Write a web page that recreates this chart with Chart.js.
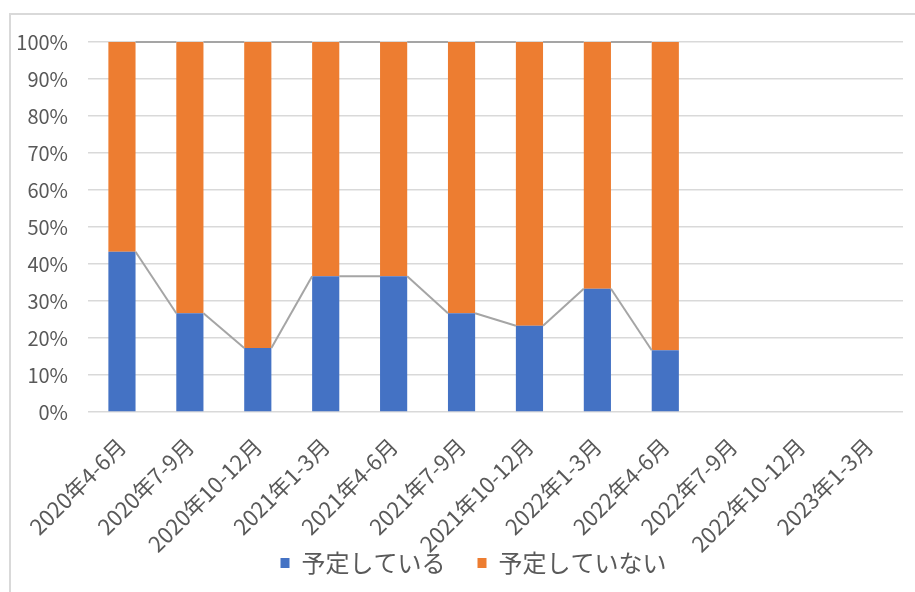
<!DOCTYPE html>
<html lang="ja">
<head>
<meta charset="utf-8">
<title>予定している / 予定していない</title>
<script src="https://cdn.jsdelivr.net/npm/chart.js@4.4.1/dist/chart.umd.min.js"></script>
<style>
  html, body { margin: 0; padding: 0; background: #fff; }
  #wrap { position: relative; width: 915px; height: 592px; overflow: hidden; }
  #frame { position: absolute; left: 9px; top: 13px; width: 1200px; height: 1200px;
           border-left: 2px solid #d9d9d9; border-top: 2px solid #d9d9d9; }
  #chart { position: absolute; left: 0; top: 0; }
</style>
</head>
<body>
<div id="wrap">
  <div id="frame"></div>
  <canvas id="chart" width="915" height="592"></canvas>
</div>
<script>
// Quarterly periods
const categories = [
  '2020年4-6月', '2020年7-9月', '2020年10-12月', '2021年1-3月',
  '2021年4-6月', '2021年7-9月', '2021年10-12月', '2022年1-3月',
  '2022年4-6月', '2022年7-9月', '2022年10-12月', '2023年1-3月'
];

// Share of respondents (%)
const planned    = [43.3, 26.7, 17.3, 36.7, 36.7, 26.7, 23.3, 33.3, 16.7, null, null, null];
const notPlanned = [56.7, 73.3, 82.7, 63.3, 63.3, 73.3, 76.7, 66.7, 83.3, null, null, null];

const seriesNames = ['予定している', '予定していない'];

const yTicks = [0, 10, 20, 30, 40, 50, 60, 70, 80, 90, 100];

const TEXT = '#595959';
const GRID = '#d9d9d9';
const FONT = "'Noto Sans CJK JP', 'Noto Sans', sans-serif";

// Connect the top of each stacked segment from one bar to the next
const seriesLines = {
  id: 'seriesLines',
  afterDatasetsDraw(chart) {
    const ctx = chart.ctx;
    ctx.save();
    ctx.strokeStyle = '#a5a5a5';
    ctx.lineWidth = 2;
    chart.data.datasets.forEach((ds, di) => {
      const bars = chart.getDatasetMeta(di).data;
      for (let i = 0; i < bars.length - 1; i++) {
        if (ds.data[i] == null || ds.data[i + 1] == null) continue;
        const a = bars[i], b = bars[i + 1];
        ctx.beginPath();
        ctx.moveTo(a.x + a.width / 2, a.y);
        ctx.lineTo(b.x - b.width / 2, b.y);
        ctx.stroke();
      }
    });
    ctx.restore();
  }
};

// Let tick labels run outside their axis box instead of being clipped
const noLabelClip = axis => { axis._computeLabelArea = () => undefined; };

new Chart(document.getElementById('chart'), {
  type: 'bar',
  data: {
    labels: categories,
    datasets: [
      { label: seriesNames[0], data: planned, backgroundColor: '#4472c4' },
      { label: seriesNames[1], data: notPlanned, backgroundColor: '#ed7d31' }
    ]
  },
  options: {
    responsive: false,
    animation: false,
    events: [],
    layout: { padding: { left: 44, right: 12, top: 42, bottom: 7 } },
    datasets: { bar: { categoryPercentage: 1, barPercentage: 0.4 } },
    scales: {
      x: {
        stacked: true,
        grid: { display: false },
        border: { display: false },
        afterFit(axis) { axis.height = 107; noLabelClip(axis); },
        ticks: {
          color: TEXT, font: { family: FONT, size: 22 },
          minRotation: 45, maxRotation: 45, autoSkip: false, padding: 13
        }
      },
      y: {
        stacked: true,
        min: 0, max: 100,
        afterBuildTicks(axis) { axis.ticks = yTicks.map(v => ({ value: v })); },
        afterFit(axis) { axis.width = 44; noLabelClip(axis); },
        grid: { color: GRID, lineWidth: 1.5, drawTicks: false },
        border: { display: false },
        ticks: {
          color: TEXT, font: { family: FONT, size: 20 }, padding: 20,
          callback: v => v + '%'
        }
      }
    },
    plugins: {
      legend: {
        position: 'bottom',
        labels: {
          color: TEXT, font: { family: FONT, size: 24 },
          boxWidth: 9, boxHeight: 10, padding: 32
        }
      },
      tooltip: { enabled: false }
    }
  },
  plugins: [seriesLines]
});
</script>
</body>
</html>
